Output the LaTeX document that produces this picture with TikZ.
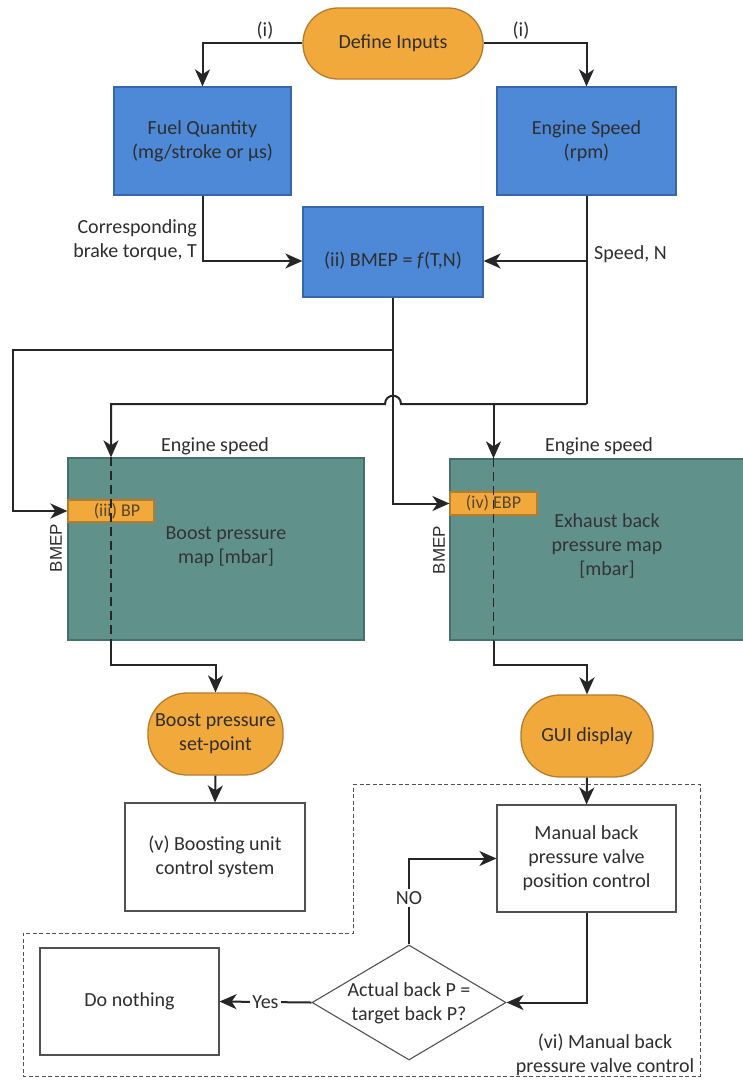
\documentclass[tikz,border=0pt]{standalone}
\usepackage{fontspec}
\setmainfont{Carlito}
\newfontfamily\bmepfont{Liberation Sans}
\usetikzlibrary{shapes.geometric,arrows.meta,calc}
\definecolor{orangeF}{HTML}{F2A93B}
\definecolor{orangeD}{HTML}{B57C2C}
\definecolor{blueF}{HTML}{4D89D6}
\definecolor{blueD}{HTML}{3767A8}
\definecolor{tealF}{HTML}{60928B}
\definecolor{tealD}{HTML}{46716B}
\definecolor{txt}{HTML}{2E2E2E}
\definecolor{linec}{HTML}{262626}
\tikzset{
  every node/.style={font=\fontsize{20}{24}\selectfont, text=txt, inner sep=0pt},
  pill/.style={draw=orangeD, fill=orangeF, line width=1.3pt, align=center},
  bluebox/.style={draw=blueD, fill=blueF, line width=1.3pt, align=center},
  mapbox/.style={draw=tealD, fill=tealF, line width=1.3pt},
  tagbox/.style={draw=orangeD, fill=orangeF, line width=1.2pt, font=\fontsize{18}{20}\selectfont, text=txt!70!orangeD},
  whitebox/.style={draw=linec!80, fill=white, line width=1.1pt, align=center},
  conn/.style={draw=linec, line width=2pt},
  arr/.style={conn, -{Stealth[length=17pt,width=15pt,inset=5pt]}},
  lbl/.style={align=center},
  maptxt/.style={align=center, text=black!80},
  bmeplbl/.style={font=\bmepfont\fontsize{17}{20}\selectfont, rotate=90, text=txt},
  mapdash/.style={draw=linec, line width=1.7pt, dash pattern=on 9pt off 5pt},
  region/.style={draw=linec!80, line width=0.9pt, dash pattern=on 4pt off 2.5pt}
}
\begin{document}
\begin{tikzpicture}[x=1pt,y=-1pt]
\useasboundingbox[fill=white] (0,0) rectangle (742,1081);

% nodes
\node[pill, minimum width=180pt, minimum height=71pt, rounded corners=35pt] (define) at (393,43.5) {Define Inputs};
\node[bluebox, minimum width=177pt, minimum height=108pt] (fuel) at (202.5,141) {Fuel Quantity\\(mg/stroke or µs)};
\node[bluebox, minimum width=179pt, minimum height=108pt] (speed) at (586.5,141) {Engine Speed\\(rpm)};
\node[bluebox, minimum width=180pt, minimum height=90pt] (bmep) at (393,252) {};
\node (bmeptxt) at (393,261) {(ii) BMEP = \textit{f}(T,N)};

\node[mapbox, minimum width=296pt, minimum height=182pt] (lmap) at (216,549) {};
\node[mapbox, minimum width=310pt, minimum height=181pt] (rmap) at (605,549.5) {};
\node[maptxt] (lmaptxt) at (226,547) {Boost pressure\\map {[mbar]}};
\node[maptxt] (rmaptxt) at (607,546) {Exhaust back\\pressure map\\{[mbar]}};

\node[tagbox, minimum width=86pt, minimum height=22pt] (bp) at (111,511) {\hspace*{12pt}(iii) BP};
\node[tagbox, minimum width=87pt, minimum height=23pt] (ebp) at (493.5,503.5) {(iv) EBP};

\node[lbl] (es1) at (215,446) {Engine speed};
\node[lbl] (es2) at (599,446) {Engine speed};
\node[bmeplbl] (bm1) at (56,548) {BMEP};
\node[bmeplbl] (bm2) at (439,550) {BMEP};

\node[pill, minimum width=135pt, minimum height=82pt, rounded corners=39pt] (bsp) at (215.5,734) {Boost pressure\\set-point};
\node[pill, minimum width=132pt, minimum height=82pt, rounded corners=39pt] (gui) at (587,736) {GUI display};

\node[whitebox, minimum width=180pt, minimum height=108pt] (vbox) at (215,857) {(v) Boosting unit\\control system};
\node[whitebox, minimum width=179pt, minimum height=107pt] (manual) at (586.5,858.5) {Manual back\\pressure valve\\position control};
\node[draw=linec!80, line width=1.1pt, diamond, minimum width=194pt, minimum height=115pt] (dia) at (409,1002.5) {};
\node[lbl] (diatxt) at (409,1003) {Actual back P =\\target back P?};
\node[whitebox, minimum width=179pt, minimum height=107pt] (nothing) at (129.5,1001.5) {Do nothing};

\node[lbl] (i1) at (265,31) {(i)};
\node[lbl] (i2) at (521,31) {(i)};
\node[anchor=east, align=right] (torque) at (197,240) {Corresponding\\brake torque, T};
\node[anchor=west] (spN) at (594,254) {Speed, N};
\node[lbl] (vi) at (605,1055) {(vi) Manual back\\pressure valve control};

% coordinates
\coordinate (lb) at (13,350);
\coordinate (hy) at (0,404);
\coordinate (cy) at (0,665);

% dashed region
\draw[region] (353,784) -- (700,784) -- (700,1076) -- (23,1076) -- (23,933) -- (353,933) -- cycle;

% connectors
\draw[arr] (define.west) -| (fuel.north);
\draw[arr] (define.east) -| (speed.north);
\draw[arr] (fuel.south) |- (bmep.west |- bmeptxt);
\draw[conn] (speed.south) -- (speed.south |- hy);
\draw[arr] (speed.south |- bmeptxt) -- (bmep.east |- bmeptxt);
\draw[arr] (speed.south |- hy) -- ($(bmep.south |- hy)+(8,0)$)
   .. controls ($(bmep.south |- hy)+(8,-11)$) and ($(bmep.south |- hy)+(-8,-11)$) .. ($(bmep.south |- hy)+(-8,0)$)
   -- (bp |- hy) -- (bp |- lmap.north);
\draw[arr] (ebp |- hy) -- (ebp |- rmap.north);
\draw[arr] (bmep.south) |- (lb) |- (bp.west);
\draw[arr] (bmep.south) |- (ebp.west);

\draw[mapdash] (bp |- lmap.north) -- (bp |- lmap.south);
\draw[mapdash] (ebp |- rmap.north) -- (ebp |- rmap.south);
\draw[arr] (bp |- lmap.south) |- (bsp |- cy) -- (bsp.north);
\draw[arr] (ebp |- rmap.south) |- (gui |- cy) -- (gui.north);

\draw[arr] (bsp.south) -- (vbox.north);
\draw[arr] (gui.south) -- (manual.north);
\draw[arr] (manual.south) |- (dia.east);
\draw[arr] (dia.north) |- node[pos=0.27, fill=white, inner sep=2pt] {NO} (manual.west);
\draw[arr] (dia.west) -- node[pos=0.5, fill=white, inner sep=2pt] {Yes} (nothing.east);
\end{tikzpicture}
\end{document}
